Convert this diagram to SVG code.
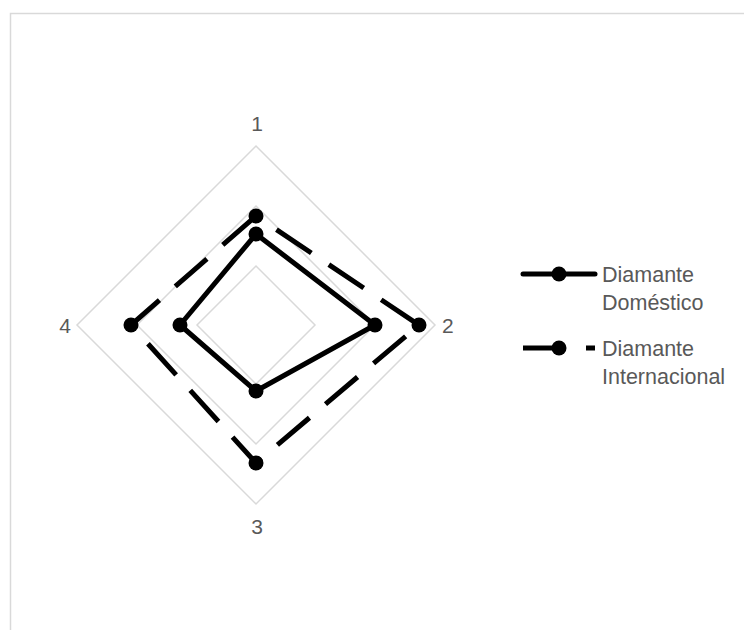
<svg xmlns="http://www.w3.org/2000/svg" width="744" height="630" viewBox="0 0 744 630">
  <style>
    .grid { fill: none; stroke: #d9d9d9; stroke-width: 1.5; }
    .lbl { font-family: "Liberation Sans", Arial, sans-serif; font-size: 21.5px; fill: #595959; }
    .ax { font-family: "Liberation Sans", Arial, sans-serif; font-size: 21px; fill: #595959; }
    .solid { fill: none; stroke: #000; stroke-width: 5; stroke-linejoin: round; }
    .dashed { fill: none; stroke: #000; stroke-width: 5; stroke-dasharray: 42 21; }
    .dot { fill: #000; }
  </style>
  <rect x="10.5" y="13.5" width="760" height="650" fill="#fff" stroke="#d9d9d9" stroke-width="1.5"/>
  <g id="grid">
    <polygon class="grid" points="256,146 435,325 256,504 77,325"/>
    <polygon class="grid" points="256,206 375,325 256,444 137,325"/>
    <polygon class="grid" points="256,266 315,325 256,384 197,325"/>
  </g>
  <g id="axis-labels">
    <text class="ax" x="257" y="131" text-anchor="middle">1</text>
    <text class="ax" x="442" y="333">2</text>
    <text class="ax" x="257" y="534" text-anchor="middle">3</text>
    <text class="ax" x="71" y="333" text-anchor="end">4</text>
  </g>
  <g id="connectors">
    <path class="dashed" d="M256,216 L419,325 L256,463 L131,325 Z" stroke-dashoffset="38.4"/>
    <polygon class="solid" points="256,234 375,325 256,391 180,325"/>
  </g>
  <g id="series-internacional">
    <circle class="dot" cx="256" cy="216" r="7.5"/>
    <circle class="dot" cx="419" cy="325" r="7.5"/>
    <circle class="dot" cx="256" cy="463" r="7.5"/>
    <circle class="dot" cx="131" cy="325" r="7.5"/>
  </g>
  <g id="series-domestico">
    <circle class="dot" cx="256" cy="234" r="7.5"/>
    <circle class="dot" cx="375" cy="325" r="7.5"/>
    <circle class="dot" cx="256" cy="391" r="7.5"/>
    <circle class="dot" cx="180" cy="325" r="7.5"/>
  </g>
  <g id="legend-domestico">
    <line class="solid" x1="523" y1="274" x2="595" y2="274" stroke-linecap="round"/>
    <circle class="dot" cx="559" cy="274" r="7.5"/>
    <text class="lbl" x="602" y="282">Diamante</text>
    <text class="lbl" x="602" y="310">Doméstico</text>
  </g>
  <g id="legend-internacional">
    <line class="dashed" x1="523" y1="348" x2="595" y2="348"/>
    <circle class="dot" cx="559" cy="348" r="7.5"/>
    <text class="lbl" x="602" y="356">Diamante</text>
    <text class="lbl" x="602" y="384">Internacional</text>
  </g>
</svg>
